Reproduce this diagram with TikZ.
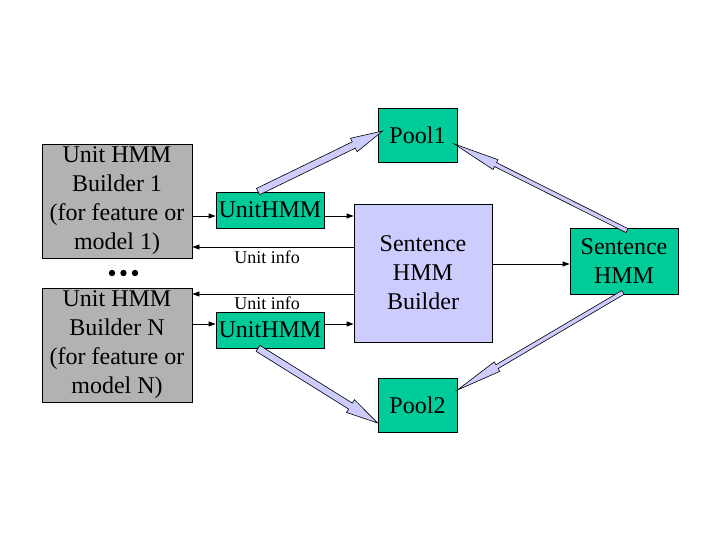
\documentclass[tikz,border=0pt]{standalone}
\usepackage{fontspec}
\setmainfont{Liberation Serif}
\usetikzlibrary{calc,arrows.meta}
\definecolor{hmmgreen}{RGB}{0,204,153}
\definecolor{hmmgray}{RGB}{178,178,178}
\definecolor{hmmlav}{RGB}{204,204,255}
\newcommand{\hmmblockarrow}[5]{%
  \path (#1) coordinate (ba-s) (#2) coordinate (ba-e);
  \path ($(ba-e)!#5!(ba-s)$) coordinate (ba-h);
  \draw[blockarrow] ($(ba-s)!#3!90:(ba-e)$) -- ($(ba-h)!#3!90:(ba-e)$) -- ($(ba-h)!#4!90:(ba-e)$) -- (ba-e) -- ($(ba-h)!#4!-90:(ba-e)$) -- ($(ba-h)!#3!-90:(ba-e)$) -- ($(ba-s)!#3!-90:(ba-e)$) -- cycle;}
\tikzset{
  box/.style={draw=black, line width=0.8pt, inner sep=0pt, align=center, font=\fontsize{24}{29}\selectfont},
  graybox/.style={box, fill=hmmgray, minimum width=150pt, minimum height=114pt},
  greenbox/.style={box, fill=hmmgreen},
  lavbox/.style={box, fill=hmmlav},
  conn/.style={line width=0.8pt, -{Triangle[length=7pt,width=5pt]}},
  lbl/.style={font=\fontsize{18}{21}\selectfont, inner sep=0pt},
  blockarrow/.style={draw=black, line width=0.6pt, fill=hmmlav, line join=miter},
}
\begin{document}
\begin{tikzpicture}[x=1pt,y=-1pt]
\useasboundingbox[fill=white] (0,0) rectangle (720,540);
% nodes
\node[graybox] (b1) at (117,201) {Unit HMM\\Builder 1\\(for feature or\\model 1)};
\node[graybox] (bN) at (117,345) {Unit HMM\\Builder N\\(for feature or\\model N)};
\node[greenbox, minimum width=108pt, minimum height=36pt] (u1) at (270,210) {UnitHMM};
\node[greenbox, minimum width=108pt, minimum height=36pt] (u2) at (270,330) {UnitHMM};
\node[greenbox, minimum width=79pt, minimum height=54pt] (pool1) at (417.5,135) {Pool1};
\node[greenbox, minimum width=79pt, minimum height=54pt] (pool2) at (417.5,405) {Pool2};
\node[lavbox, minimum width=138pt, minimum height=138pt] (shb) at (423,273) {Sentence\\HMM\\Builder};
\node[greenbox, minimum width=108pt, minimum height=66pt] (shmm) at (624,261) {Sentence\\HMM};
% dots
\fill (112,273) circle (3.2pt) (123.5,273) circle (3.2pt) (135,273) circle (3.2pt);
% row coordinates
\coordinate (r1) at (0,216);
\coordinate (r2) at (0,247);
\coordinate (r3) at (0,294);
\coordinate (r4) at (0,324);
\coordinate (r5) at (0,264);
% thin connectors
\draw[conn] (b1.east |- r1) -- (u1.west |- r1);
\draw[conn] (u1.east |- r1) -- (shb.west |- r1);
\draw[conn] (shb.west |- r2) -- (b1.east |- r2);
\draw[conn] (shb.west |- r3) -- (bN.east |- r3);
\draw[conn] (bN.east |- r4) -- (u2.west |- r4);
\draw[conn] (u2.east |- r4) -- (shb.west |- r4);
\draw[conn] (shb.east |- r5) -- (shmm.west |- r5);
\node[lbl] (info1) at (267,257) {Unit info};
\node[lbl] (info2) at (267,303) {Unit info};
% block arrows
\hmmblockarrow{$(u1.north)+(-12,0)$}{$(pool1.west)+(5,-4)$}{3.5pt}{7.5pt}{32pt}
\hmmblockarrow{$(u2.south)+(-12,0)$}{$(pool2.west)+(0,18)$}{3.5pt}{7.5pt}{32pt}
\hmmblockarrow{$(shmm.north)+(3,3)$}{$(pool1.east)+(-3,9)$}{2.2pt}{5.5pt}{46pt}
\hmmblockarrow{$(shmm.south)+(-1,-2)$}{$(pool2.east)+(0,-15)$}{2.2pt}{5.5pt}{46pt}
\end{tikzpicture}
\end{document}
